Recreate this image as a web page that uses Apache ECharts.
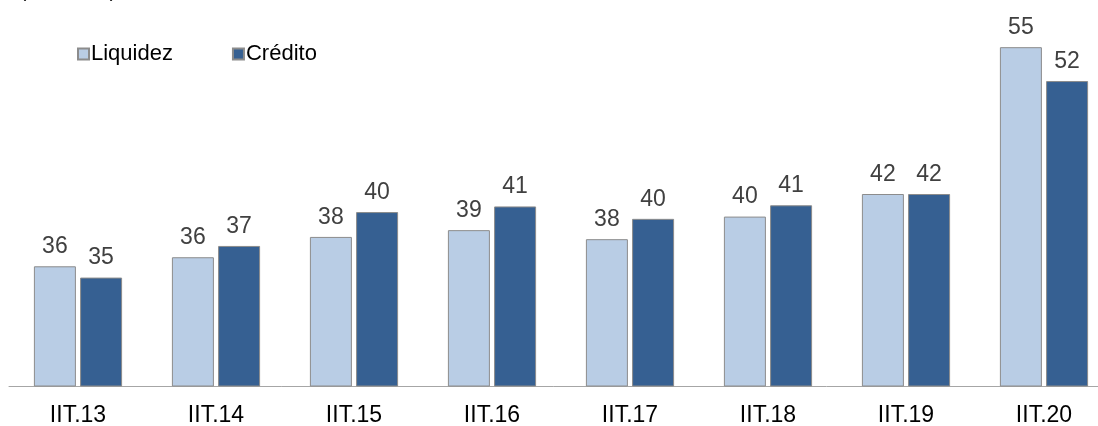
<!DOCTYPE html>
<html><head><meta charset="utf-8">
<script src="https://cdn.jsdelivr.net/npm/echarts@6/dist/echarts.min.js"></script>
<style>html,body{margin:0;padding:0;background:#fff}#c{width:1098px;height:426px}</style>
</head><body><div id="c"></div>
<script>
var categories = ['IIT.13','IIT.14','IIT.15','IIT.16','IIT.17','IIT.18','IIT.19','IIT.20'];
var liquidez = [35.6, 36.4, 38.2, 38.8, 38.0, 40.0, 42.0, 55.0];
var credito = [34.6, 37.4, 40.4, 40.9, 39.8, 41.0, 42.0, 52.0];
var seriesNames = ['Liquidez', 'Crédito'];
var unitText = '(% del PIB)';

var font = 'Arial, "Liberation Sans", sans-serif';
var chart = echarts.init(document.getElementById('c'), null, {renderer: 'canvas'});
function lbl(p){ return Math.round(p.value); }
chart.setOption({
  animation: false,
  textStyle: {fontFamily: font},
  graphic: [{type: 'text', x: 20, y: -18, style: {text: unitText, fontSize: 19, fontFamily: font, fill: '#000', verticalAlign: 'top'}}],
  legend: {
    left: 72, top: 38, itemWidth: 11, itemHeight: 11, itemGap: 59,
    icon: 'rect',
    textStyle: {fontSize: 22, color: '#000', fontFamily: font, padding: [0, 0, 0, -3]},
    data: seriesNames
  },
  grid: {left: 9, top: 2, bottom: 40, width: 1104, containLabel: false, outerBoundsMode: 'none'},
  xAxis: {
    type: 'category', data: categories,
    axisLine: {lineStyle: {color: '#A6A6A6', width: 1}},
    axisTick: {show: false},
    axisLabel: {fontSize: 23, color: '#000', margin: 18, fontFamily: font}
  },
  yAxis: {type: 'value', min: 25, max: 59, show: false, splitLine: {show: false}},
  series: [
    {name: seriesNames[0], type: 'bar', data: liquidez, barWidth: 42, barGap: '10%',
     itemStyle: {color: '#B9CDE5', borderColor: '#8C8C8C', borderWidth: 1},
     label: {show: true, position: 'top', distance: 8, fontSize: 23, color: '#404040', formatter: lbl, fontFamily: font}},
    {name: seriesNames[1], type: 'bar', data: credito, barWidth: 42,
     itemStyle: {color: '#366092', borderColor: '#8C8C8C', borderWidth: 1},
     label: {show: true, position: 'top', distance: 8, fontSize: 23, color: '#404040', formatter: lbl, fontFamily: font}}
  ]
});
</script></body></html>
